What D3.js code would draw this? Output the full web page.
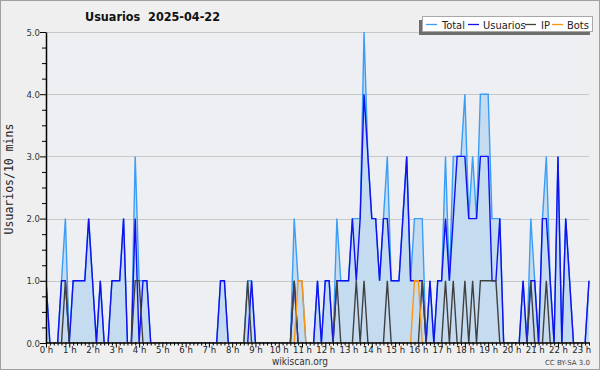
<!DOCTYPE html>
<html><head><meta charset="utf-8">
<script src="https://cdn.jsdelivr.net/npm/d3@7"></script>
<style>
html,body{margin:0;padding:0;background:#efeff0;}
svg{display:block;font-family:"DejaVu Sans",sans-serif;}
</style></head>
<body><svg id="c" width="600" height="370"></svg>
<script>
// 10-minute slots from 0:00 to 23:20
const total = [1,0,0,0,1,2,0,1,1,1,1,2,1,0,1,0,0,1,1,1,2,0,0,3,1,1,1,0,0,0,
 0,0,0,0,0,0,0,0,0,0,0,0,0,0,0,1,1,0,0,0,0,0,1,1,0,0,0,0,0,0,
 0,0,0,0,2,1,1,0,0,0,1,0,1,1,0,2,1,1,1,2,2,2,5,3,2,2,1,2,3,1,
 1,1,2,3,1,2,2,2,0,1,0,1,1,3,1,3,3,3,4,2,3,2,4,4,4,2,2,2,0,0,
 0,0,0,1,0,2,1,0,2,3,1,0,3,0,2,1,0,0,0,0,1];
const usuarios = [1,0,0,0,1,1,0,1,1,1,1,2,1,0,1,0,0,1,1,1,2,0,0,2,0,1,1,0,0,0,
 0,0,0,0,0,0,0,0,0,0,0,0,0,0,0,1,1,0,0,0,0,0,0,1,0,0,0,0,0,0,
 0,0,0,0,1,0,0,0,0,0,1,0,1,1,0,1,1,1,1,2,1,2,4,3,2,2,1,2,2,1,
 1,1,2,3,1,1,1,1,0,1,0,1,1,2,1,2,3,3,3,2,2,2,3,3,3,1,1,2,0,0,
 0,0,0,1,0,1,1,0,2,2,1,0,3,0,2,1,0,0,0,0,1];
const ip = [0,0,0,0,0,1,0,0,0,0,0,0,0,0,0,0,0,0,0,0,0,0,0,1,1,0,0,0,0,0,
 0,0,0,0,0,0,0,0,0,0,0,0,0,0,0,0,0,0,0,0,0,0,1,0,0,0,0,0,0,0,
 0,0,0,0,1,0,0,0,0,0,0,0,0,0,0,1,0,0,0,0,1,0,1,0,0,0,0,0,1,0,
 0,0,0,0,0,0,0,1,0,0,0,0,0,1,0,1,0,0,1,0,1,0,1,1,1,1,1,0,0,0,
 0,0,0,0,0,1,0,0,0,1,0,0,0,0,0,0,0,0,0,0,0];
const bots = [0,0,0,0,0,0,0,0,0,0,0,0,0,0,0,0,0,0,0,0,0,0,0,0,0,0,0,0,0,0,
 0,0,0,0,0,0,0,0,0,0,0,0,0,0,0,0,0,0,0,0,0,0,0,0,0,0,0,0,0,0,
 0,0,0,0,0,1,1,0,0,0,0,0,0,0,0,0,0,0,0,0,0,0,0,0,0,0,0,0,0,0,
 0,0,0,0,0,1,1,0,0,0,0,0,0,0,0,0,0,0,0,0,0,0,0,0,0,0,0,0,0,0,
 0,0,0,0,0,0,0,0,0,0,0,0,0,0,0,0,0,0,0,0,0];
const hourLabels = d3.range(0,24).map(h => h + " h");
const yTicks = [0,1,2,3,4,5];
const seriesNames = ["Total","Usuarios","IP","Bots"];
const title = "Usuarios\u00a0\u00a02025-04-22";

const svg = d3.select("#c");
const W=600,H=370;
const L=46,R=589,T=32,B=343;
svg.append("rect").attr("x",0.5).attr("y",0.5).attr("width",W-1).attr("height",H-1)
  .attr("fill","#efeff0").attr("stroke","#a0a0a0");

const x = d3.scaleLinear().domain([0,total.length-1]).range([L,R]);
const y = d3.scaleLinear().domain([0,5]).range([B,T]);

svg.append("defs").append("clipPath").attr("id","clip").append("rect")
  .attr("x",L).attr("y",0).attr("width",R-L+2).attr("height",B-0.7);

svg.append("rect").attr("x",L).attr("y",T).attr("width",R-L).attr("height",B-T).attr("fill","#eeeff2");

svg.append("g").selectAll("line").data(yTicks.filter(d=>d>0)).join("line")
  .attr("x1",L).attr("x2",R).attr("y1",d=>Math.round(y(d))+0.5).attr("y2",d=>Math.round(y(d))+0.5)
  .attr("stroke","#c8c8c8").attr("stroke-width",1);

const idx = d3.range(total.length);
const plot = svg.append("g").attr("clip-path","url(#clip)");
plot.append("path").datum(idx)
  .attr("d",d3.area().x(i=>x(i)).y0(y(0)).y1(i=>y(total[i])))
  .attr("fill","#c5dcf0");
const line = arr => d3.line().x(i=>x(i)).y(i=>y(arr[i]));
const colors = {Total:"#3a9df6",Usuarios:"#1010f0",IP:"#404040",Bots:"#ff9410"};
[[total,"Total"],[usuarios,"Usuarios"],[ip,"IP"],[bots,"Bots"]].forEach(([arr,n])=>{
  plot.append("path").datum(idx).attr("d",line(arr)).attr("fill","none")
    .attr("stroke",colors[n]).attr("stroke-width",1.4).attr("stroke-linejoin","miter");
});

// x axis
const xa = d3.axisBottom(x).tickValues(idx).tickSizeOuter(0)
  .tickFormat(i => i%6===0 ? hourLabels[i/6] : "");
const gx = svg.append("g").attr("transform",`translate(0,${B-0.5})`).call(xa);
gx.select(".domain").attr("stroke","#000").attr("stroke-width",1.5);
gx.selectAll(".tick line").attr("y2",i=> i%6===0?5:3).attr("stroke","#000");
gx.selectAll(".tick text").attr("y",4).attr("font-size",9.5).attr("fill","#222")
  .attr("font-family","DejaVu Sans").style("font-stretch","condensed");

const ya = d3.axisLeft(y).tickValues(d3.range(0,5.01,0.25)).tickSizeOuter(0)
  .tickFormat(d => Number.isInteger(d) ? d.toFixed(1) : "");
const gy = svg.append("g").attr("transform",`translate(${L},0)`).call(ya);
gy.select(".domain").attr("stroke","#000").attr("stroke-width",1.5);
gy.selectAll(".tick line").attr("x2",d=>Number.isInteger(d)?-6:-4).attr("stroke","#000");
gy.selectAll(".tick text").attr("x",-6).attr("font-size",9.5).attr("fill","#333")
  .attr("font-family","DejaVu Sans").style("font-stretch","condensed");

svg.append("text").attr("x",85).attr("y",21).text(title)
  .attr("font-weight","bold").attr("font-size",12.5).style("font-stretch","condensed").attr("fill","#111");

svg.append("text").attr("transform","translate(13,179) rotate(-90)").attr("text-anchor","middle")
  .attr("font-size",11.5).attr("fill","#222").attr("font-family","DejaVu Sans Mono").text("Usuarios/10 mins");

svg.append("text").attr("x",300).attr("y",365).attr("text-anchor","middle").attr("font-size",10)
  .attr("fill","#333").style("font-stretch","condensed").text("wikiscan.org");
svg.append("text").attr("x",590).attr("y",365).attr("text-anchor","end").attr("font-size",7)
  .attr("fill","#444").text("CC BY-SA 3.0");

const lg = svg.append("g");
lg.append("rect").attr("x",419).attr("y",20).attr("width",171).attr("height",15).attr("fill","#6e6e6e");
lg.append("rect").attr("x",422.5).attr("y",16.5).attr("width",170).attr("height",15).attr("fill","#fff").attr("stroke","#a8a8a8");
const items = [{n:"Total",lx:426,tx:442},{n:"Usuarios",lx:468,tx:483},{n:"IP",lx:525,tx:541},{n:"Bots",lx:552,tx:567}];
items.forEach(it=>{
  lg.append("line").attr("x1",it.lx).attr("x2",it.lx+11).attr("y1",24.5).attr("y2",24.5)
    .attr("stroke",colors[it.n]).attr("stroke-width",1.3);
  lg.append("text").attr("x",it.tx).attr("y",28.5).attr("font-size",11).attr("fill","#222")
    .style("font-stretch","condensed").text(it.n);
});
</script></body></html>
